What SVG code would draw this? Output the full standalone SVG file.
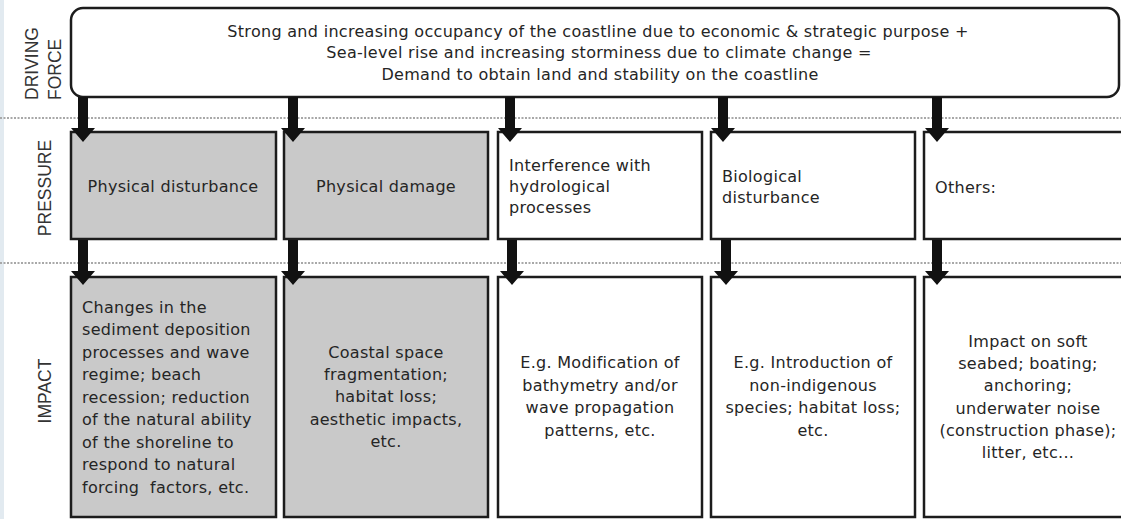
<svg xmlns="http://www.w3.org/2000/svg" width="1121" height="519" viewBox="0 0 1121 519">
<style>
.box{stroke:#1c1c1c;stroke-width:2.5}
.gray{fill:#c9c9c9}
.white{fill:#ffffff}
.t{font-family:"DejaVu Sans",Verdana,sans-serif;font-size:16px;letter-spacing:0.3px;fill:#252525;white-space:pre}
.c{text-anchor:middle}
.lbl{font-family:"Liberation Sans",Arial,sans-serif;font-size:17.5px;fill:#333}
.dot{stroke:#a8a8a8;stroke-width:2;stroke-dasharray:2 1.5;fill:none}
</style>
<defs>
<path id="arr" d="M-5,0 H5 V31 H12 L0,45 L-12,31 H-5 Z" fill="#111"/>
</defs>
<rect x="0" y="0" width="1121" height="519" fill="#ffffff"/>
<rect x="0" y="0" width="4" height="519" fill="#e2eaf0"/>
<line class="dot" x1="0" y1="118" x2="1121" y2="118"/>
<line class="dot" x1="0" y1="263" x2="1121" y2="263"/>
<g id="labels">
<text class="lbl" transform="translate(38,100) rotate(-90)">DRIVING</text>
<text class="lbl" transform="translate(61,100) rotate(-90)">FORCE</text>
<text class="lbl c" transform="translate(51,188) rotate(-90)">PRESSURE</text>
<text class="lbl c" transform="translate(51,391) rotate(-90)">IMPACT</text>
</g>
<g id="driving-force">
<rect class="box white" x="71" y="8" width="1048" height="89" rx="12"/>
<text class="t c" x="598" y="37">Strong and increasing occupancy of the coastline due to economic &amp; strategic purpose +</text>
<text class="t c" x="599" y="58">Sea-level rise and increasing storminess due to climate change =</text>
<text class="t c" x="600" y="80">Demand to obtain land and stability on the coastline</text>
</g>
<g id="p1">
<rect class="box gray" x="71" y="132" width="205" height="107"/>
<text class="t c" x="173" y="192">Physical disturbance</text>
</g>
<g id="p2">
<rect class="box gray" x="284" y="132" width="204" height="107"/>
<text class="t c" x="386" y="192">Physical damage</text>
</g>
<g id="p3">
<rect class="box white" x="498" y="132" width="204" height="107"/>
<text class="t" x="509" y="171">Interference with</text>
<text class="t" x="509" y="192">hydrological</text>
<text class="t" x="509" y="213">processes</text>
</g>
<g id="p4">
<rect class="box white" x="711" y="132" width="204" height="107"/>
<text class="t" x="722" y="182">Biological</text>
<text class="t" x="722" y="203">disturbance</text>
</g>
<g id="p5">
<rect class="box white" x="924" y="132" width="210" height="107"/>
<text class="t" x="935" y="193">Others:</text>
</g>
<g id="i1">
<rect class="box gray" x="71" y="277" width="205" height="240"/>
<text class="t" x="82" y="313">Changes in the</text>
<text class="t" x="82" y="335">sediment deposition</text>
<text class="t" x="82" y="358">processes and wave</text>
<text class="t" x="82" y="380">regime; beach</text>
<text class="t" x="82" y="403">recession; reduction</text>
<text class="t" x="82" y="425">of the natural ability</text>
<text class="t" x="82" y="448">of the shoreline to</text>
<text class="t" x="82" y="470">respond to natural</text>
<text class="t" x="82" y="493">forcing  factors, etc.</text>
</g>
<g id="i2">
<rect class="box gray" x="284" y="277" width="204" height="240"/>
<text class="t c" x="386" y="358">Coastal space</text>
<text class="t c" x="386" y="380">fragmentation;</text>
<text class="t c" x="386" y="402">habitat loss;</text>
<text class="t c" x="386" y="425">aesthetic impacts,</text>
<text class="t c" x="386" y="447">etc.</text>
</g>
<g id="i3">
<rect class="box white" x="498" y="277" width="204" height="240"/>
<text class="t c" x="600" y="368">E.g. Modification of</text>
<text class="t c" x="600" y="391">bathymetry and/or</text>
<text class="t c" x="600" y="413">wave propagation</text>
<text class="t c" x="600" y="436">patterns, etc.</text>
</g>
<g id="i4">
<rect class="box white" x="711" y="277" width="204" height="240"/>
<text class="t c" x="813" y="368">E.g. Introduction of</text>
<text class="t c" x="813" y="391">non-indigenous</text>
<text class="t c" x="813" y="413">species; habitat loss;</text>
<text class="t c" x="813" y="436">etc.</text>
</g>
<g id="i5">
<rect class="box white" x="924" y="277" width="210" height="240"/>
<text class="t c" x="1028" y="347">Impact on soft</text>
<text class="t c" x="1028" y="369">seabed; boating;</text>
<text class="t c" x="1028" y="391">anchoring;</text>
<text class="t c" x="1028" y="414">underwater noise</text>
<text class="t c" x="1028" y="436">(construction phase);</text>
<text class="t c" x="1028" y="458">litter, etc...</text>
</g>
<g id="connectors">
<use href="#arr" transform="translate(83,97)"/>
<use href="#arr" transform="translate(293,97)"/>
<use href="#arr" transform="translate(510,97)"/>
<use href="#arr" transform="translate(723,97)"/>
<use href="#arr" transform="translate(937,97)"/>
<use href="#arr" transform="translate(83,240)"/>
<use href="#arr" transform="translate(293,240)"/>
<use href="#arr" transform="translate(512,240)"/>
<use href="#arr" transform="translate(726,240)"/>
<use href="#arr" transform="translate(937,240)"/>
</g>
</svg>
